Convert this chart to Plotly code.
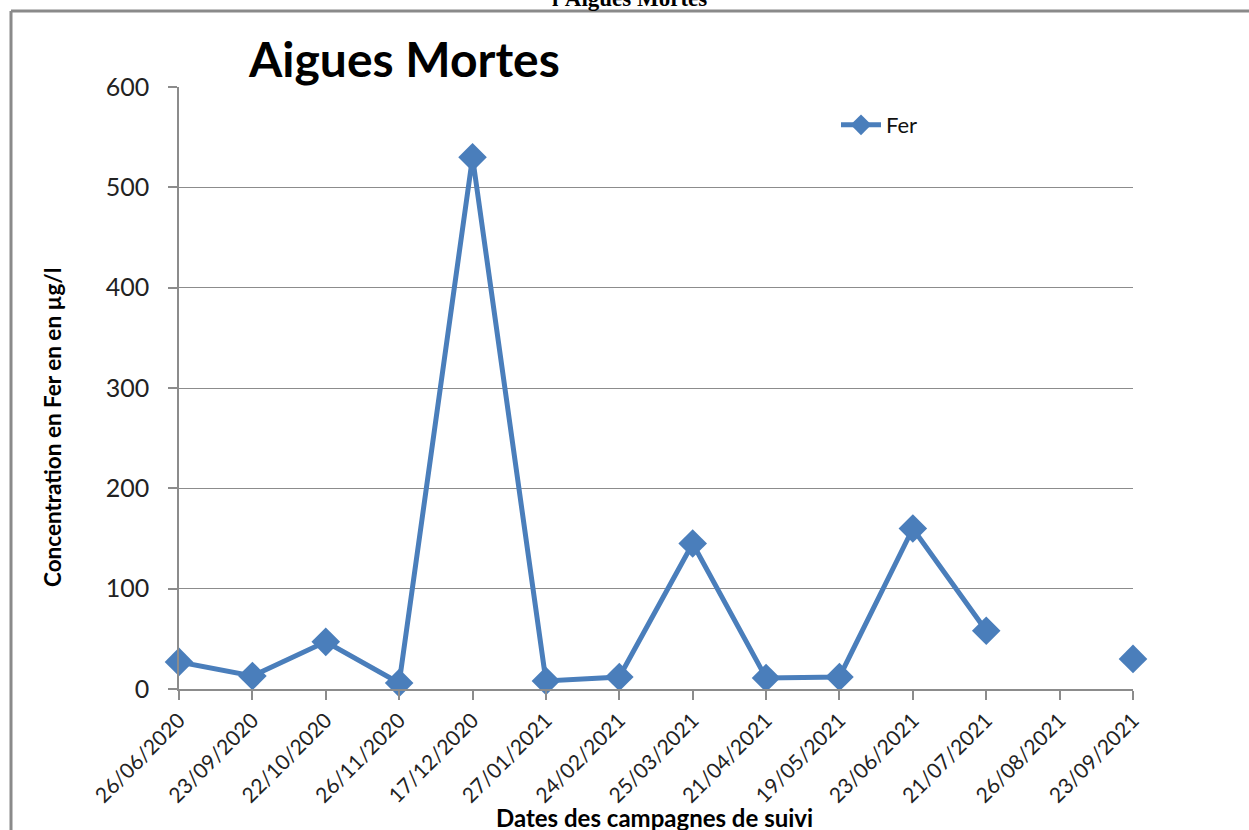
import plotly.graph_objects as go

dates = ["26/06/2020", "23/09/2020", "22/10/2020", "26/11/2020", "17/12/2020",
         "27/01/2021", "24/02/2021", "25/03/2021", "21/04/2021", "19/05/2021",
         "23/06/2021", "21/07/2021", "26/08/2021", "23/09/2021"]
fer = [27, 13, 47, 6, 530, 8, 12, 145, 11, 12, 160, 58, None, 30]
y_ticks = [0, 100, 200, 300, 400, 500, 600]

W, H = 1249, 830
L, R, T, B = 179, 1133, 87, 689

def px_x(p):
    return (p - L) / (R - L)

def px_y(p):
    return (B - p) / (B - T)

BLUE = "#4A7EBB"
GRID = "#8C8C8C"
FONT = "Lato, Carlito, 'Open Sans', sans-serif"

fig = go.Figure()
fig.add_trace(go.Scatter(
    x=dates, y=fer, mode="lines+markers", name="Fer",
    line=dict(color=BLUE, width=5),
    marker=dict(symbol="diamond", size=22, color=BLUE),
    connectgaps=False, cliponaxis=False,
))

fig.update_layout(
    width=W, height=H,
    margin=dict(l=L, r=W - R, t=T, b=H - B),
    paper_bgcolor="white", plot_bgcolor="white",
    font=dict(family=FONT, color="#1a1a1a"),
    showlegend=True,
    legend=dict(x=px_x(836), y=px_y(125), xanchor="left", yanchor="middle",
                bgcolor="rgba(0,0,0,0)", font=dict(size=22, family=FONT, color="#111"),
                itemwidth=40),
)
fig.update_xaxes(
    type="category", categoryorder="array", categoryarray=dates,
    range=[0, len(dates) - 1],
    showgrid=False, showline=True, linecolor=GRID, linewidth=1.5,
    ticks="outside", ticklen=9, tickcolor=GRID, tickwidth=1.5,
    tickangle=-45, tickfont=dict(size=21, family=FONT, color="#222"),
    zeroline=False,
)
fig.update_yaxes(
    range=[0, 600], tickvals=y_ticks,
    showgrid=True, gridcolor=GRID, gridwidth=1.2,
    showline=True, linecolor=GRID, linewidth=1.5,
    ticks="outside", ticklen=9, tickcolor=GRID, tickwidth=1.5,
    ticklabelstandoff=14,
    tickfont=dict(size=25, family=FONT, color="#222"),
    zeroline=False,
)

# page frame
fig.add_shape(type="line", xref="paper", yref="paper",
              x0=px_x(11), x1=px_x(1249), y0=px_y(11), y1=px_y(11),
              line=dict(color="#8a8a8a", width=3))
fig.add_shape(type="line", xref="paper", yref="paper",
              x0=px_x(11), x1=px_x(11), y0=px_y(11), y1=px_y(830),
              line=dict(color="#8a8a8a", width=3))

# cut-off heading from the page
fig.add_annotation(text="<b>l'Aigues Mortes</b>", xref="paper", yref="paper",
                   x=px_x(629), y=px_y(13), xanchor="center", yanchor="bottom",
                   showarrow=False,
                   font=dict(family="Liberation Serif, Times New Roman, serif", size=23, color="#000"))

fig.add_annotation(text="<b>Aigues Mortes</b>", xref="paper", yref="paper",
                   x=px_x(246), y=px_y(58), xanchor="left", yanchor="middle",
                   showarrow=False, font=dict(family=FONT, size=48, color="#000"))

fig.add_annotation(text="<b>Concentration en Fer en en µg/l</b>", xref="paper", yref="paper",
                   x=px_x(52), y=px_y(428), xanchor="center", yanchor="middle",
                   textangle=-90, showarrow=False, font=dict(family=FONT, size=22.5, color="#000"))

fig.add_annotation(text="<b>Dates des campagnes de suivi</b>", xref="paper", yref="paper",
                   x=px_x(654), y=px_y(817), xanchor="center", yanchor="middle",
                   showarrow=False, font=dict(family=FONT, size=24, color="#000"))

fig.write_html("out.html", config={"displayModeBar": False},
               post_script="document.body.style.margin='0';")
